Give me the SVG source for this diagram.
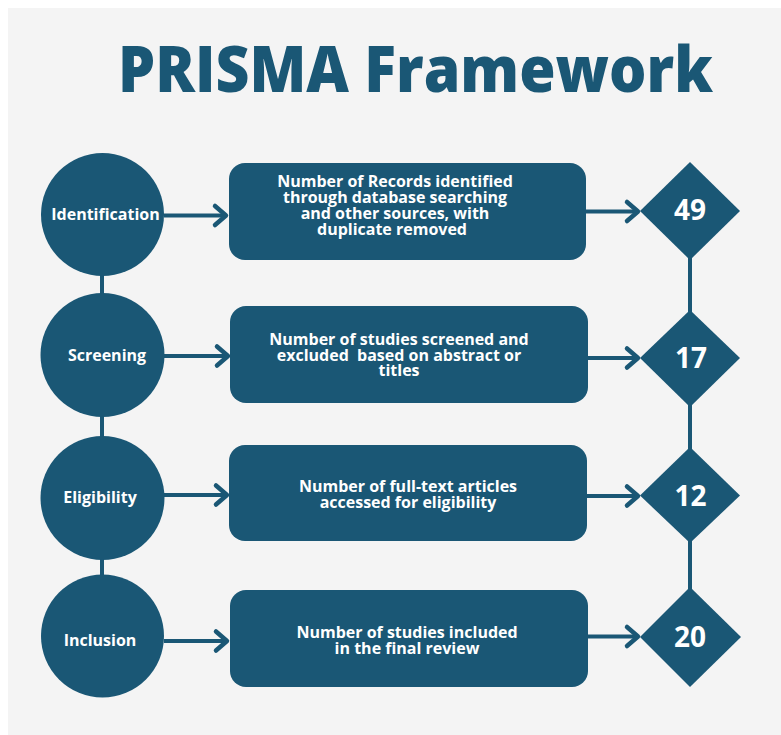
<svg xmlns="http://www.w3.org/2000/svg" width="781" height="735" viewBox="0 0 781 735">
  <defs>
    <style>
      .shape { fill: #1a5775; }
      .line { stroke: #1a5775; stroke-width: 4; fill: none; }
      .arrow { stroke: #1a5775; stroke-width: 4; fill: none; marker-end: url(#chev); }
      .lbl { font-family: "Open Sans", "Liberation Sans", sans-serif; font-weight: 700; fill: #ffffff; text-anchor: middle; }
      .circ { font-size: 16px; }
      .box { font-size: 16px; }
      .num { font-size: 28px; }
      .title { font-family: "Open Sans", "Liberation Sans", sans-serif; font-weight: 800; font-size: 64px; fill: #1a5775; }
    </style>
    <marker id="chev" markerUnits="userSpaceOnUse" viewBox="0 0 16 24" markerWidth="16" markerHeight="24" refX="14" refY="12" orient="auto" overflow="visible">
      <path d="M3,2.5 L14,12 L3,21.5" fill="none" stroke="#1a5775" stroke-width="4.5" stroke-linecap="round" stroke-linejoin="round"/>
    </marker>
  </defs>

  <rect x="0" y="0" width="781" height="735" fill="#ffffff"/>
  <rect x="8" y="8" width="773" height="727" fill="#f4f4f4"/>

  <text class="title" x="118" y="92" textLength="595" lengthAdjust="spacingAndGlyphs">PRISMA Framework</text>

  <g id="connectors">
    <line class="line" x1="102" y1="214" x2="102" y2="636"/>
    <line class="line" x1="690" y1="211" x2="690" y2="637"/>
    <line class="arrow" x1="164" y1="215.5" x2="226" y2="215.5"/>
    <line class="arrow" x1="164" y1="356" x2="228" y2="356"/>
    <line class="arrow" x1="164" y1="495" x2="227" y2="495"/>
    <line class="arrow" x1="164" y1="641" x2="227" y2="641"/>
    <line class="arrow" x1="586" y1="211.5" x2="638" y2="211.5"/>
    <line class="arrow" x1="588" y1="358" x2="638" y2="358"/>
    <line class="arrow" x1="587" y1="496" x2="638" y2="496"/>
    <line class="arrow" x1="588" y1="636.5" x2="638" y2="636.5"/>
  </g>

  <g id="identification">
    <circle class="shape" cx="102.5" cy="214.5" r="61.5"/>
    <text class="lbl circ" x="105.5" y="220">Identification</text>
  </g>
  <g id="screening">
    <circle class="shape" cx="102.5" cy="355" r="62"/>
    <text class="lbl circ" x="107" y="361">Screening</text>
  </g>
  <g id="eligibility">
    <circle class="shape" cx="102.5" cy="498" r="62"/>
    <text class="lbl circ" x="100" y="503">Eligibility</text>
  </g>
  <g id="inclusion">
    <circle class="shape" cx="102.5" cy="636" r="61.5"/>
    <text class="lbl circ" x="100" y="646">Inclusion</text>
  </g>

  <g id="box-records">
    <rect class="shape" x="229" y="163" width="357" height="97" rx="16"/>
    <text class="lbl box" x="395"><tspan x="395" y="187">Number of Records identified</tspan><tspan x="395" y="203">through database searching</tspan><tspan x="395" y="219">and other sources, with</tspan><tspan x="392" y="235">duplicate removed</tspan></text>
  </g>
  <g id="box-screened">
    <rect class="shape" x="230" y="306" width="358" height="97" rx="16"/>
    <text class="lbl box" x="399"><tspan x="399" y="345">Number of studies screened and</tspan><tspan x="399" y="360.5" xml:space="preserve">excluded  based on abstract or</tspan><tspan x="399" y="376">titles</tspan></text>
  </g>
  <g id="box-fulltext">
    <rect class="shape" x="229" y="445" width="358" height="96" rx="16"/>
    <text class="lbl box" x="408"><tspan x="408" y="492">Number of full-text articles</tspan><tspan x="408" y="508">accessed for eligibility</tspan></text>
  </g>
  <g id="box-included">
    <rect class="shape" x="230" y="590" width="358" height="97" rx="16"/>
    <text class="lbl box" x="407"><tspan x="407" y="638">Number of studies included</tspan><tspan x="407" y="654">in the final review</tspan></text>
  </g>

  <g id="d49">
    <polygon class="shape" points="690,162 740,211 690,260 640,211"/>
    <text class="lbl num" x="690" y="220">49</text>
  </g>
  <g id="d17">
    <polygon class="shape" points="690,310 740,358 690,407 640,358"/>
    <text class="lbl num" x="691" y="368">17</text>
  </g>
  <g id="d12">
    <polygon class="shape" points="690,447 740,495.5 690,543 640,495.5"/>
    <text class="lbl num" x="690.5" y="506">12</text>
  </g>
  <g id="d20">
    <polygon class="shape" points="690,587 741,637 690,687 640,637"/>
    <text class="lbl num" x="690" y="647">20</text>
  </g>
</svg>
